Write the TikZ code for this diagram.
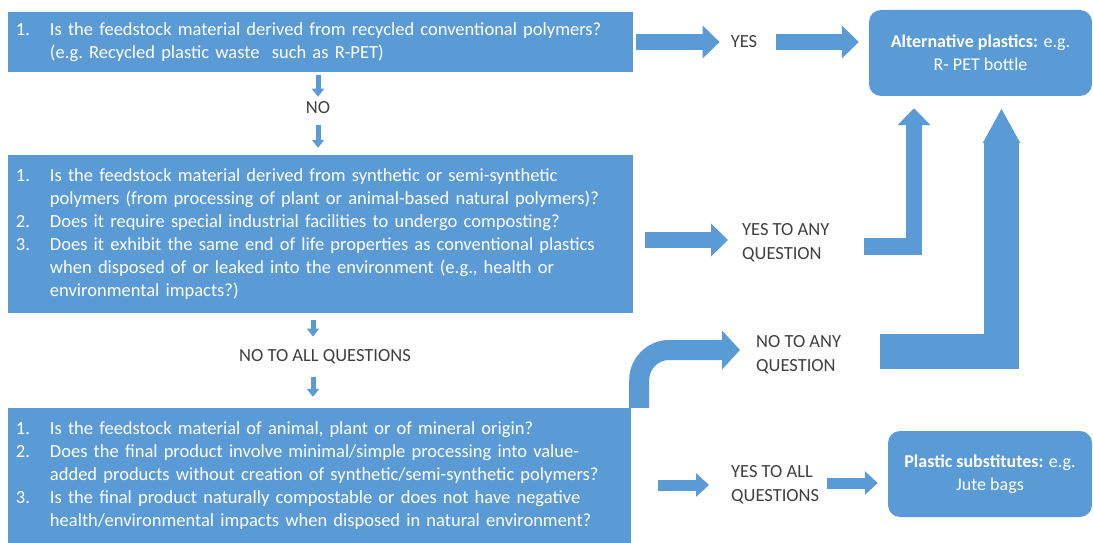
\documentclass[tikz,border=0pt]{standalone}
\usepackage{fontspec}
\setmainfont{Carlito}
\usepackage{xcolor}
\usetikzlibrary{arrows.meta,positioning}
\definecolor{boxblue}{HTML}{5B9BD5}
\definecolor{labelgray}{HTML}{3F3F3F}
\tikzset{
  qbox/.style={fill=boxblue, text=white, inner xsep=8pt, inner ysep=0pt, align=left, font=\fontsize{18.5}{23}\selectfont\frenchspacing},
  resbox/.style={fill=boxblue, text=white, rounded corners=12pt, align=center, font=\fontsize{18}{23}\selectfont},
  lbl/.style={text=labelgray, inner sep=0pt, align=left, font=\fontsize{18.5}{24}\selectfont},
  downarrow/.style={draw=boxblue, line width=5pt, -{Triangle[length=8pt,width=12pt]}},
  bigarrow/.style={draw=boxblue, line width=16.5pt, -{Triangle[length=17pt,width=32pt]}},
  curvearrow/.style={draw=boxblue, line width=20pt, rounded corners=30pt, -{Triangle[length=18pt,width=38pt]}},
  hugearrow/.style={draw=boxblue, line width=35pt, -{Triangle[length=35pt,width=35pt]}},
  midarrow/.style={draw=boxblue, line width=11pt, -{Triangle[length=13pt,width=23pt]}}
}
\begin{document}
\begin{tikzpicture}[x=1pt,y=-1pt]
\useasboundingbox (0,0) rectangle (1093,543);

% Question boxes
\node[qbox, minimum width=625pt, minimum height=60pt, text width=609pt] (q1) at (320.5,42) {%
\begin{tabular}{@{}p{34pt}@{}l@{}}
1. & Is the feedstock material derived from recycled conventional polymers?\\
 & (e.g. Recycled plastic waste\ \ such as R-PET)
\end{tabular}};
\node[qbox, minimum width=625pt, minimum height=158pt, text width=609pt] (q2) at (320.5,234) {%
\begin{tabular}{@{}p{34pt}@{}l@{}}
1. & Is the feedstock material derived from synthetic or semi-synthetic\\
 & polymers (from processing of plant or animal-based natural polymers)?\\
2. & Does it require special industrial facilities to undergo composting?\\
3. & Does it exhibit the same end of life properties as conventional plastics\\
 & when disposed of or leaked into the environment (e.g., health or\\
 & environmental impacts?)
\end{tabular}\\[9pt]};
\node[qbox, minimum width=623pt, minimum height=135pt, text width=607pt] (q3) at (319.5,475.5) {%
\begin{tabular}{@{}p{34pt}@{}l@{}}
1. & Is the feedstock material of animal, plant or of mineral origin?\\
2. & Does the final product involve minimal/simple processing into value-\\
 & added products without creation of synthetic/semi-synthetic polymers?\\
3. & Is the final product naturally compostable or does not have negative\\
 & health/environmental impacts when disposed in natural environment?
\end{tabular}\\[8pt]};

% Result boxes
\node[resbox, minimum width=223pt, minimum height=86pt] (alt) at (980.5,53) {\textbf{Alternative plastics:} e.g.\\R- PET bottle};
\node[resbox, minimum width=204pt, minimum height=86pt] (sub) at (990,474) {\textbf{Plastic substitutes:} e.g.\\Jute bags};

% Labels
\node[lbl] (no1) at (318,108) {NO};
\node[lbl] (yes) at (744,42) {YES};
\node[lbl, anchor=west] (yesany) at (742,243) {YES TO ANY\\QUESTION};
\node[lbl] (noall) at (325,357) {NO TO ALL QUESTIONS};
\node[lbl, anchor=west] (noany) at (756,355) {NO TO ANY\\QUESTION};
\node[lbl, anchor=west] (yesall) at (731,485) {YES TO ALL\\QUESTIONS};

% Arrows
\draw[downarrow, shorten <=3pt, shorten >=5pt] (q1.south -| no1) -- (no1.north);
\draw[downarrow, shorten <=11pt, shorten >=7pt] (no1.south) -- (no1.south |- q2.north);
\draw[downarrow, shorten <=7pt, shorten >=13pt] ([xshift=-12pt]q2.south -| noall) -- ([xshift=-12pt]noall.north);
\draw[downarrow, shorten <=13pt, shorten >=11pt] ([xshift=-12pt]noall.south) -- ([xshift=-12pt]noall.south |- q3.north);
\draw[bigarrow, shorten <=3pt, shorten >=11pt] (q1.east) -- (q1.east -| yes.west);
\draw[bigarrow, shorten <=19pt, shorten >=10pt] (yes.east) -- (yes.east -| alt.west);
\draw[bigarrow, shorten <=12pt, shorten >=14pt] ([yshift=-6pt]q2.east) -- ([yshift=-6pt]q2.east -| yesany.west);
\draw[bigarrow, shorten <=34pt, shorten >=12pt] ([yshift=-3.5pt]yesany.east) -| ([xshift=-66.5pt]alt.south);
\draw[hugearrow, shorten <=39pt, shorten >=12pt] ([yshift=3.5pt]noany.east) -| ([xshift=21pt]alt.south);
\draw[curvearrow, shorten >=16pt] ([xshift=8pt]q3.north east) |- ([yshift=5pt]noany.west);
\draw[midarrow, shorten <=27pt, shorten >=22pt] ([yshift=-9.5pt]q3.east) -- ([yshift=-9.5pt]q3.east -| yesall.west);
\draw[midarrow, shorten <=8pt, shorten >=10pt] ([yshift=2pt]yesall.east) -- ([yshift=2pt]yesall.east -| sub.west);

\end{tikzpicture}
\end{document}
